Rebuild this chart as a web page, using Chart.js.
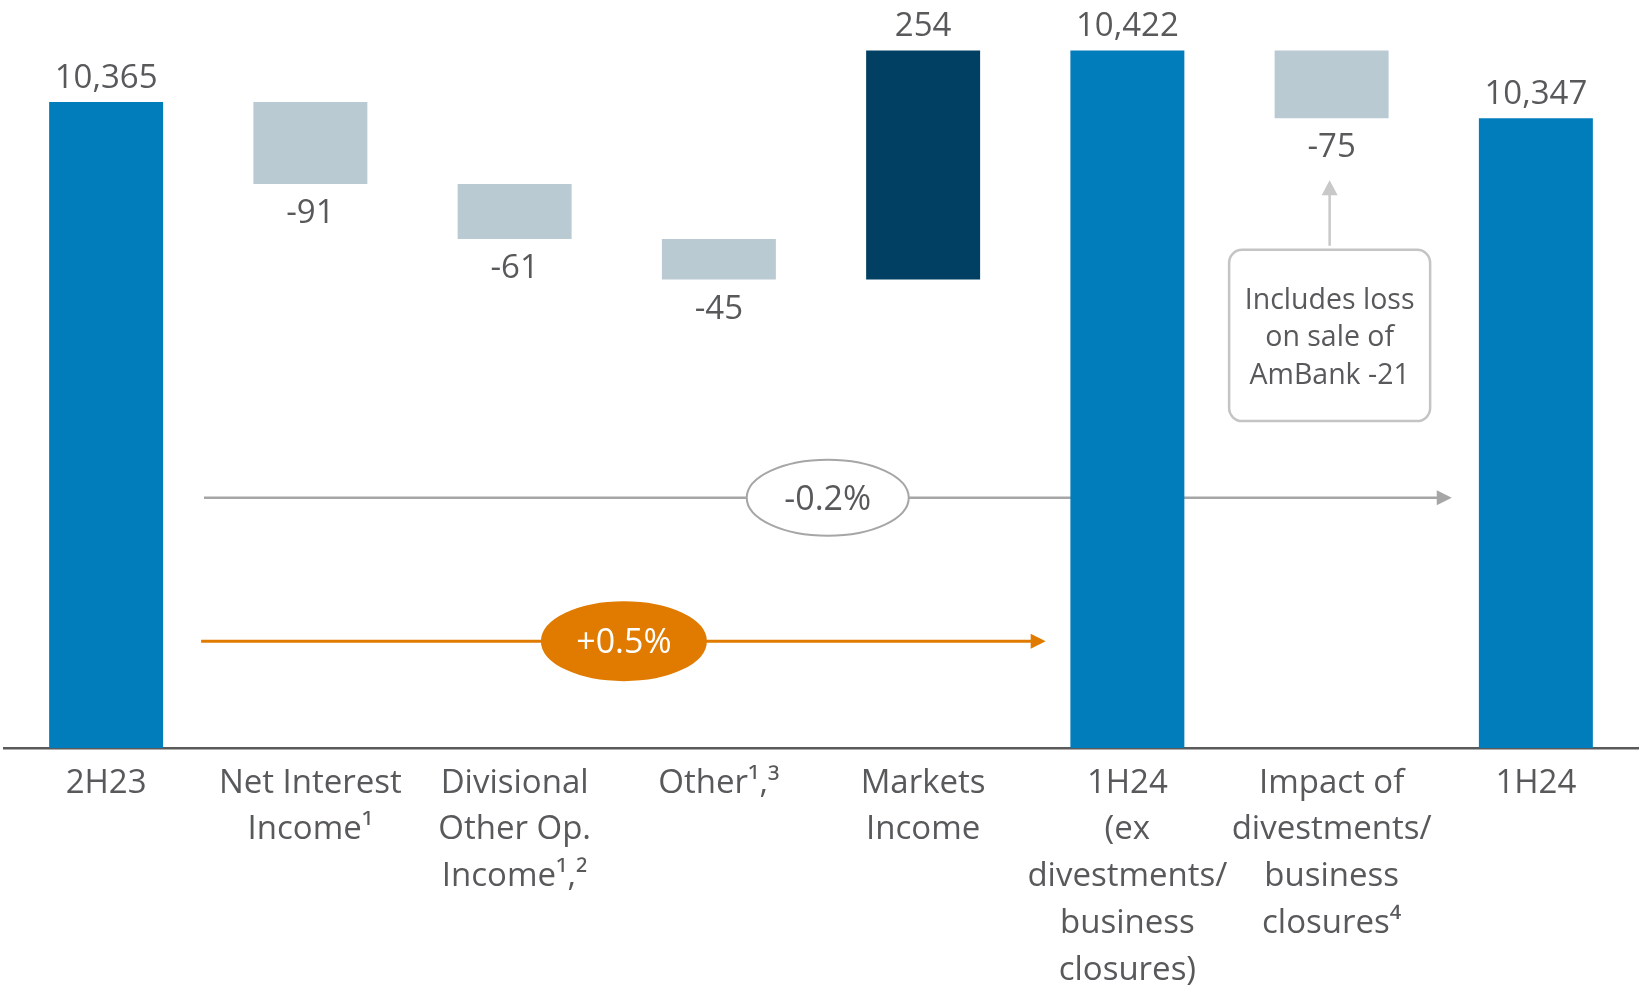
<!DOCTYPE html>
<html>
<head>
<meta charset="utf-8">
<script src="https://cdn.jsdelivr.net/npm/chart.js@4.4.1/dist/chart.umd.min.js"></script>
<style>
  body { margin: 0; background: #fff; }
  #wrap { width: 1647px; height: 988px; }
</style>
</head>
<body>
<div id="wrap"><canvas id="bridge" width="1647" height="988"></canvas></div>
<script>
// waterfall data
const categories = [
  ['2H23'],
  ['Net Interest', 'Income¹'],
  ['Divisional', 'Other Op.', 'Income¹,²'],
  ['Other¹,³'],
  ['Markets', 'Income'],
  ['1H24', '(ex', 'divestments/', 'business', 'closures)'],
  ['Impact of', 'divestments/', 'business', 'closures⁴'],
  ['1H24']
];
const values = [10365, -91, -61, -45, 254, 10422, -75, 10347];
const isTotal = [true, false, false, false, false, true, false, true];
const valueLabels = ['10,365', '-91', '-61', '-45', '254', '10,422', '-75', '10,347'];

const AXIS_MIN = 9648.5;
const AXIS_MAX = 10478;

const BLUE = '#017DBB';
const NAVY = '#024063';
const GREYBLUE = '#B9CAD2';
const TXT = '#58595B';
const ORANGE = '#E07B00';
const LINEGREY = '#A6A6A6';

// build floating bars
var running = 0;
var floating = [];
var colours = [];
for (let i = 0; i < values.length; i++) {
  if (isTotal[i]) {
    floating.push([AXIS_MIN, values[i]]);
    running = values[i];
    colours.push(BLUE);
  } else {
    floating.push([running, running + values[i]]);
    running += values[i];
    colours.push(values[i] < 0 ? GREYBLUE : NAVY);
  }
}

// growth arrows: x in category units, y in data units
const growthArrows = [
  { from: 0.479, to: 6.588, y: 9926, ell: 3.533, rx: 81, ry: 38, text: '-0.2%', colour: LINEGREY, fill: '#fff', txt: TXT, width: 2.5 },
  { from: 0.465, to: 4.60, y: 9767, ell: 2.535, rx: 82, ry: 39, text: '+0.5%', colour: ORANGE, fill: ORANGE, txt: '#fff', width: 3 }
];
const callout = { cat: 6, top: 10201, bottom: 10011, tip: 10278, lines: ['Includes loss', 'on sale of', 'AmBank -21'] };

function roundRect(ctx, x, y, w, h, r) {
  ctx.beginPath();
  ctx.moveTo(x + r, y);
  ctx.arcTo(x + w, y, x + w, y + h, r);
  ctx.arcTo(x + w, y + h, x, y + h, r);
  ctx.arcTo(x, y + h, x, y, r);
  ctx.arcTo(x, y, x + w, y, r);
  ctx.closePath();
}

const overlay = {
  id: 'overlay',
  beforeDatasetsDraw(chart) {
    const ctx = chart.ctx;
    const xs = chart.scales.x, ys = chart.scales.y;
    const step = xs.getPixelForValue(1) - xs.getPixelForValue(0);
    const cx = (c) => xs.getPixelForValue(0) + c * step;
    ctx.save();
    growthArrows.forEach(a => {
      const y = ys.getPixelForValue(a.y);
      const x1 = cx(a.from), x2 = cx(a.to);
      ctx.strokeStyle = a.colour;
      ctx.lineWidth = a.width;
      ctx.beginPath();
      ctx.moveTo(x1, y);
      ctx.lineTo(x2 - 14, y);
      ctx.stroke();
      ctx.fillStyle = a.colour;
      ctx.beginPath();
      ctx.moveTo(x2, y);
      ctx.lineTo(x2 - 15, y - 7.5);
      ctx.lineTo(x2 - 15, y + 7.5);
      ctx.closePath();
      ctx.fill();
      const ex = cx(a.ell);
      ctx.beginPath();
      ctx.ellipse(ex, y, a.rx, a.ry, 0, 0, Math.PI * 2);
      ctx.fillStyle = a.fill;
      ctx.fill();
      ctx.lineWidth = 2;
      ctx.stroke();
      ctx.fillStyle = a.txt;
      ctx.font = '34px "Open Sans"';
      ctx.textAlign = 'center';
      ctx.textBaseline = 'alphabetic';
      ctx.fillText(a.text, ex, y + 12);
    });

    // callout box + arrow
    const bx = xs.getPixelForValue(callout.cat) - 2;
    const top = ys.getPixelForValue(callout.top);
    const bot = ys.getPixelForValue(callout.bottom);
    const tip = ys.getPixelForValue(callout.tip);
    ctx.strokeStyle = '#C4C4C4';
    ctx.lineWidth = 2.5;
    roundRect(ctx, bx - 100.5, top, 201, bot - top, 13);
    ctx.fillStyle = '#fff';
    ctx.fill();
    ctx.stroke();
    ctx.strokeStyle = '#C8C8C8';
    ctx.lineWidth = 2.5;
    ctx.beginPath();
    ctx.moveTo(bx, top - 4);
    ctx.lineTo(bx, tip + 14);
    ctx.stroke();
    ctx.fillStyle = '#C8C8C8';
    ctx.beginPath();
    ctx.moveTo(bx, tip);
    ctx.lineTo(bx - 8, tip + 15);
    ctx.lineTo(bx + 8, tip + 15);
    ctx.closePath();
    ctx.fill();
    ctx.fillStyle = TXT;
    ctx.font = '28.5px "Open Sans"';
    ctx.textAlign = 'center';
    ctx.textBaseline = 'alphabetic';
    callout.lines.forEach((l, k) => ctx.fillText(l, bx, top + 59 + k * 37.5));
    ctx.restore();
  },
  afterDatasetsDraw(chart) {
    const ctx = chart.ctx;
    const meta = chart.getDatasetMeta(0);
    ctx.save();
    ctx.fillStyle = TXT;
    ctx.font = '33px "Open Sans"';
    ctx.textAlign = 'center';
    ctx.textBaseline = 'alphabetic';
    meta.data.forEach((bar, i) => {
      const p = bar.getProps(['x', 'y', 'base'], true);
      const hi = Math.min(p.y, p.base), lo = Math.max(p.y, p.base);
      if (values[i] < 0) ctx.fillText(valueLabels[i], p.x, lo + 39);
      else ctx.fillText(valueLabels[i], p.x, hi - 14);
    });
    ctx.restore();
  }
};

new Chart(document.getElementById('bridge'), {
  type: 'bar',
  data: {
    labels: categories,
    datasets: [{
      data: floating,
      backgroundColor: colours,
      borderWidth: 0,
      barPercentage: 0.558,
      categoryPercentage: 1
    }]
  },
  options: {
    responsive: false,
    animation: false,
    layout: { padding: { left: 4, right: 9, top: 0, bottom: 0 } },
    plugins: { legend: { display: false }, tooltip: { enabled: false } },
    scales: {
      x: {
        grid: { display: false },
        border: { display: true, color: '#5A5A5A', width: 2.5 },
        ticks: {
          color: TXT,
          padding: 4,
          maxRotation: 0,
          autoSkip: false,
          font: { family: '"Open Sans"', size: 33, lineHeight: 1.415 }
        },
        afterFit: (scale) => { scale.height = 240; }
      },
      y: {
        display: false,
        min: AXIS_MIN,
        max: AXIS_MAX
      }
    }
  },
  plugins: [overlay]
});
</script>
</body>
</html>
